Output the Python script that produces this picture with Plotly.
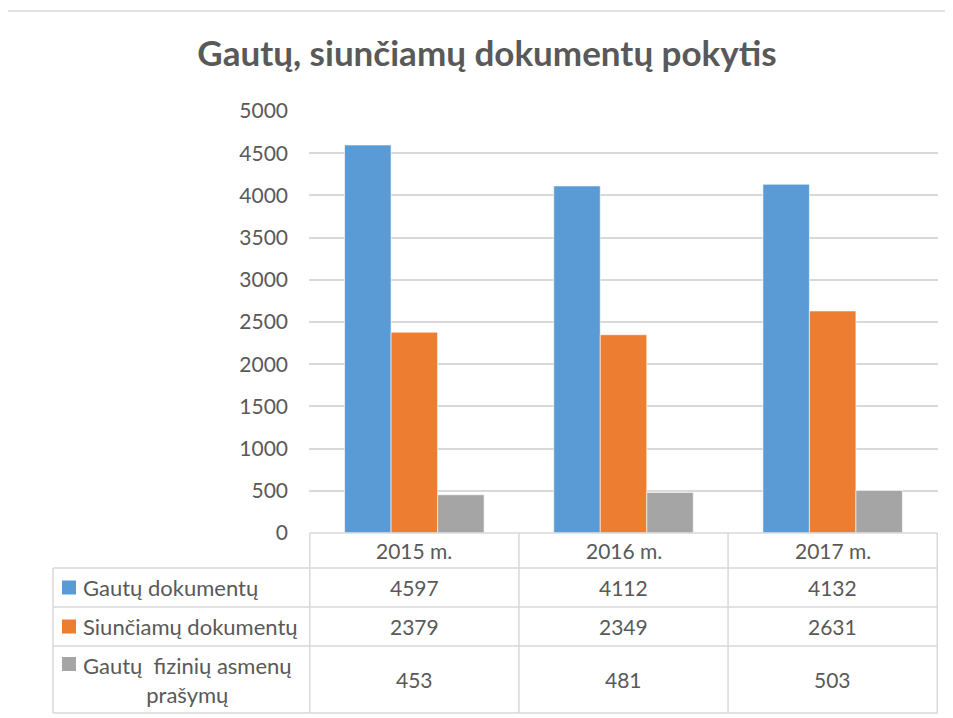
import plotly.graph_objects as go

categories = ["2015 m.", "2016 m.", "2017 m."]
series_names = ["Gautų dokumentų", "Siunčiamų dokumentų", "Gautų\u00a0\u00a0fizinių asmenų<br>prašymų"]
gauta = [4597, 4112, 4132]
siunciama = [2379, 2349, 2631]
prasymai = [453, 481, 503]
y_ticks = [0, 500, 1000, 1500, 2000, 2500, 3000, 3500, 4000, 4500, 5000]

colors = ["#5B9BD5", "#ED7D31", "#A5A5A5"]
series_values = [gauta, siunciama, prasymai]
TXT = "#595959"
GRID = "#D9D9D9"
FONT = "Lato"

# page offset (browser body margin)
OFF = 8
PAGE_W, PAGE_H = 953, 718
W, H = PAGE_W - OFF, PAGE_H - OFF
# plot area in page pixels
PL, PR, PT, PB = 309, 938, 111, 533
L, T = PL - OFF, PT - OFF
R = W - (PR - OFF)
B = H - (PB - OFF)
PW, PH = PR - PL, PB - PT


def px(x):
    return (x - PL) / PW


def py(y):
    return (PB - y) / PH


fig = go.Figure()
for name, vals, col in zip(series_names, series_values, colors):
    fig.add_trace(go.Bar(x=categories, y=vals, name=name, marker_color=col,
                         marker_line=dict(color="white", width=0.6)))

shapes = []
annotations = []

# outer chart border
shapes.append(dict(type="line", xref="paper", yref="paper", x0=px(7), x1=px(PAGE_W + 2),
                   y0=py(11), y1=py(11), line=dict(color=GRID, width=1.5)))
shapes.append(dict(type="line", xref="paper", yref="paper", x0=px(7), x1=px(7),
                   y0=py(11), y1=py(PAGE_H + 2), line=dict(color=GRID, width=1.5)))

# data table geometry (page pixel rows)
row_edges = [533, 568, 607, 646, 713]
tbl_left = 53
n = len(categories)

shapes.append(dict(type="line", xref="x", yref="paper", x0=-0.5, x1=n - 0.5,
                   y0=py(row_edges[0]), y1=py(row_edges[0]), line=dict(color=GRID, width=1.5)))
for ye in row_edges[1:]:
    shapes.append(dict(type="line", xref="paper", yref="paper", x0=px(tbl_left), x1=1,
                       y0=py(ye), y1=py(ye), line=dict(color=GRID, width=1.5)))
for i in range(n + 1):
    shapes.append(dict(type="line", xref="x", yref="paper", x0=i - 0.5, x1=i - 0.5,
                       y0=py(row_edges[0]), y1=py(row_edges[-1]), line=dict(color=GRID, width=1.5)))
shapes.append(dict(type="line", xref="paper", yref="paper", x0=px(tbl_left), x1=px(tbl_left),
                   y0=py(row_edges[1]), y1=py(row_edges[-1]), line=dict(color=GRID, width=1.5)))

hdr_c = (row_edges[0] + row_edges[1]) / 2
for c in categories:
    annotations.append(dict(x=c, xref="x", y=py(hdr_c), yref="paper", text=c, showarrow=False,
                            font=dict(size=21, color=TXT, family=FONT), xanchor="center", yanchor="middle"))

for r, (name, vals, col) in enumerate(zip(series_names, series_values, colors)):
    top, bot = row_edges[r + 1], row_edges[r + 2]
    yc = (top + bot) / 2
    for c, v in zip(categories, vals):
        annotations.append(dict(x=c, xref="x", y=py(yc), yref="paper", text=str(v), showarrow=False,
                                font=dict(size=21, color=TXT, family=FONT), xanchor="center", yanchor="middle"))
    if "<br>" in name:
        key_c = top + 18
        annotations.append(dict(x=px(187), xref="paper", y=py(yc), yref="paper", text=name,
                                showarrow=False, align="center",
                                font=dict(size=22, color=TXT, family=FONT), xanchor="center", yanchor="middle"))
    else:
        key_c = yc
        annotations.append(dict(x=px(81), xref="paper", y=py(yc), yref="paper", text=name,
                                showarrow=False, font=dict(size=22, color=TXT, family=FONT),
                                xanchor="left", yanchor="middle"))
    shapes.append(dict(type="rect", xref="paper", yref="paper", x0=px(62), x1=px(76),
                       y0=py(key_c - 7), y1=py(key_c + 7), fillcolor=col, line=dict(width=0)))

fig.update_layout(
    width=W, height=H,
    margin=dict(l=L, r=R, t=T, b=B),
    paper_bgcolor="white", plot_bgcolor="white",
    title=dict(text="<b>Gautų, siunčiamų dokumentų pokytis</b>", x=(487 - OFF) / W, xanchor="center",
               y=1 - (54 - OFF) / H, yanchor="middle", font=dict(size=35, color=TXT, family=FONT)),
    barmode="group", bargap=0.333, bargroupgap=0,
    showlegend=False,
    font=dict(family=FONT, color=TXT),
    shapes=shapes, annotations=annotations,
)
fig.update_xaxes(showticklabels=False, showgrid=False, zeroline=False, showline=False, ticks="")
fig.update_yaxes(range=[0, 5000], tickvals=y_ticks, showgrid=True, gridcolor=GRID, gridwidth=1.5,
                 zeroline=False, showline=False, ticks="", ticklabelstandoff=20,
                 tickfont=dict(size=21, color=TXT, family=FONT))

fig.write_html("out.html")
